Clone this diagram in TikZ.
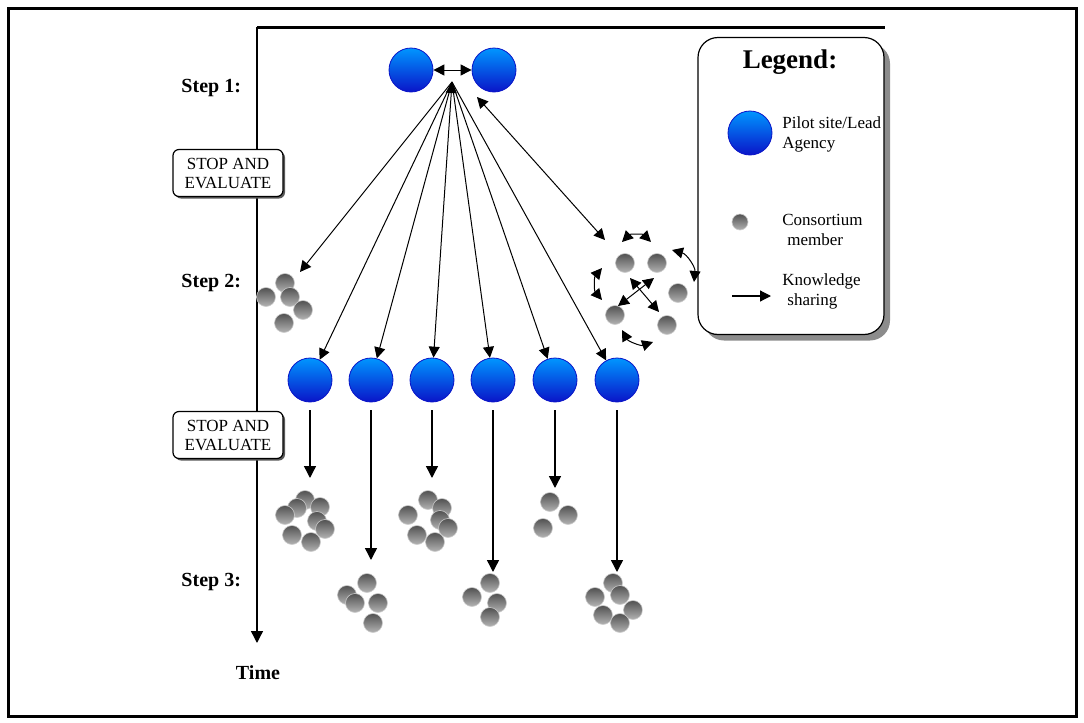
\documentclass[tikz,border=0pt]{standalone}
\usepackage{fontspec}
\setmainfont{Liberation Serif}
\usetikzlibrary{arrows.meta,shadows}

\definecolor{pilottop}{RGB}{0,150,255}
\definecolor{pilotbot}{RGB}{10,20,200}

\tikzset{
  pilot/.style={shape=circle, draw=pilotbot, line width=0.4pt, top color=pilottop, bottom color=pilotbot, minimum size=22pt, inner sep=0pt},
  member/.style={shape=circle, draw=gray!40, line width=0.3pt, top color=black!68, bottom color=black!30, minimum size=9.5pt, inner sep=0pt},
  share/.style={-{Triangle[length=5.5pt,width=5.5pt]}, line width=0.5pt},
  both/.style={{Triangle[length=5.5pt,width=5.5pt]}-{Triangle[length=5.5pt,width=5.5pt]}, line width=0.5pt},
  down/.style={-{Triangle[length=6pt,width=6pt]}, line width=0.7pt, shorten <=4pt},
  stopbox/.style={shape=rectangle, rounded corners=3pt, draw, line width=0.6pt, fill=white, minimum width=55pt, minimum height=23.5pt, inner sep=1pt, align=center, font=\fontsize{8.5}{9.5}\selectfont, drop shadow={shadow xshift=1pt, shadow yshift=-1pt, fill=black!65, opacity=1}},
  steplbl/.style={anchor=east, font=\fontsize{10}{12}\selectfont\bfseries},
  legtxt/.style={anchor=west, align=left, inner sep=0pt, font=\fontsize{8.5}{10}\selectfont}
}

\begin{document}
\begin{tikzpicture}[x=0.5pt,y=-0.5pt]
  \useasboundingbox (0,0) rectangle (1084,723);
  \draw[line width=1.5pt] (8,8) rectangle (1076,716);

  % time axis
  \coordinate (axtop) at (257,27);
  \coordinate (axend) at (257,643);
  \coordinate (topend) at (885,27);
  \draw[line width=1.5pt] (axtop) -- (topend);
  \draw[down, shorten <=0pt] (axtop) -- (axend);
  \node[font=\fontsize{10}{12}\selectfont\bfseries] (time) at (258,673) {Time};

  \path (248,88)  node [steplbl] (step1) {Step 1:}
        (248,283) node [steplbl] (step2) {Step 2:}
        (248,582) node [steplbl] (step3) {Step 3:};
  \path (228,173) node [stopbox] (stop1) {STOP AND\\EVALUATE}
        (228,435) node [stopbox] (stop2) {STOP AND\\EVALUATE};

  % legend
  \node[shape=rectangle, draw, line width=0.6pt, fill=white, rounded corners=10pt, minimum width=93pt, minimum height=148.5pt, drop shadow={shadow xshift=3pt, shadow yshift=-3pt, fill=black!45, opacity=1}] (legend) at (791,186) {};
  \node[font=\fontsize{13.5}{16}\selectfont\bfseries] (legtitle) at (790,62) {Legend:};
  \node[pilot] (lgpilot) at (750,133) {};
  \node[legtxt] (lgpilottxt) at (782,134) {Pilot site/Lead\\Agency};
  \node[member, minimum size=8pt] (lgmember) at (740,222) {};
  \node[legtxt] (lgmembertxt) at (782,230) {Consortium\\\hspace{2.5pt}member};
  \coordinate (lgfrom) at (732,296);
  \coordinate (lgto) at (771,296);
  \draw[share, line width=0.6pt] (lgfrom) -- (lgto);
  \node[legtxt] (lgsharetxt) at (782,291) {Knowledge\\\hspace{2.5pt}sharing};

  % step 1
  \path (411,70) node [pilot] (p1) {}
        (494,70) node [pilot] (p2) {};
  \draw[both] (p1) -- (p2);
  \coordinate (hub) at (452,82);

  % step 2
  \foreach \x [count=\i] in {310,371,432,493,555,617}
    \node[pilot] (c\i) at (\x,380) {};
  \coordinate (s2tip) at (300,272);
  \draw[share] (hub) -- (s2tip);
  \foreach \i in {1,2,4,5,6}
    \draw[share] (hub) -- (c\i);
  \draw[both] (hub) -- (c3);
  \coordinate (rstart) at (477,97);
  \coordinate (rtip) at (605,240);
  \draw[both] (rstart) -- (rtip);

  \foreach \x/\y [count=\i] in {285/283,266/297,290/297,303/310,284/323}
    \node[member] (sa-\i) at (\x,\y) {};
  \foreach \x/\y [count=\i] in {625/263,657/263,678/293,615/315,667/325}
    \node[member] (sb-\i) at (\x,\y) {};

  % sharing inside the right group
  \draw[both] (622,242) to[bend left=45] (651,242);
  \draw[both] (602,300) to[bend left=40] (602,268);
  \draw[both] (672,250) to[bend left=40] (694,282);
  \draw[both] (653,342) to[bend left=40] (622,330);
  \draw[both] (630,278) -- (659,312);
  \draw[both] (654,278) -- (618,306);

  % step 3
  \coordinate (t1) at (310,478);
  \coordinate (t2) at (371,560);
  \coordinate (t3) at (432,478);
  \coordinate (t4) at (493,572);
  \coordinate (t5) at (555,488);
  \coordinate (t6) at (617,572);
  \foreach \i in {1,...,6}
    \draw[down] (c\i) -- (t\i);

  \foreach \x/\y [count=\i] in {305/500,320/507,297/508,285/515,317/521,325/529,292/535,311/542}
    \node[member] (ka-\i) at (\x,\y) {};
  \foreach \x/\y [count=\i] in {367/583,347/595,355/603,378/603,373/623}
    \node[member] (kb-\i) at (\x,\y) {};
  \foreach \x/\y [count=\i] in {428/500,442/508,408/515,440/520,448/528,417/535,435/542}
    \node[member] (kc-\i) at (\x,\y) {};
  \foreach \x/\y [count=\i] in {490/583,472/597,497/603,490/617}
    \node[member] (kd-\i) at (\x,\y) {};
  \foreach \x/\y [count=\i] in {550/502,568/515,543/528}
    \node[member] (ke-\i) at (\x,\y) {};
  \foreach \x/\y [count=\i] in {613/583,595/597,620/595,633/610,603/615,620/623}
    \node[member] (kf-\i) at (\x,\y) {};
\end{tikzpicture}
\end{document}
